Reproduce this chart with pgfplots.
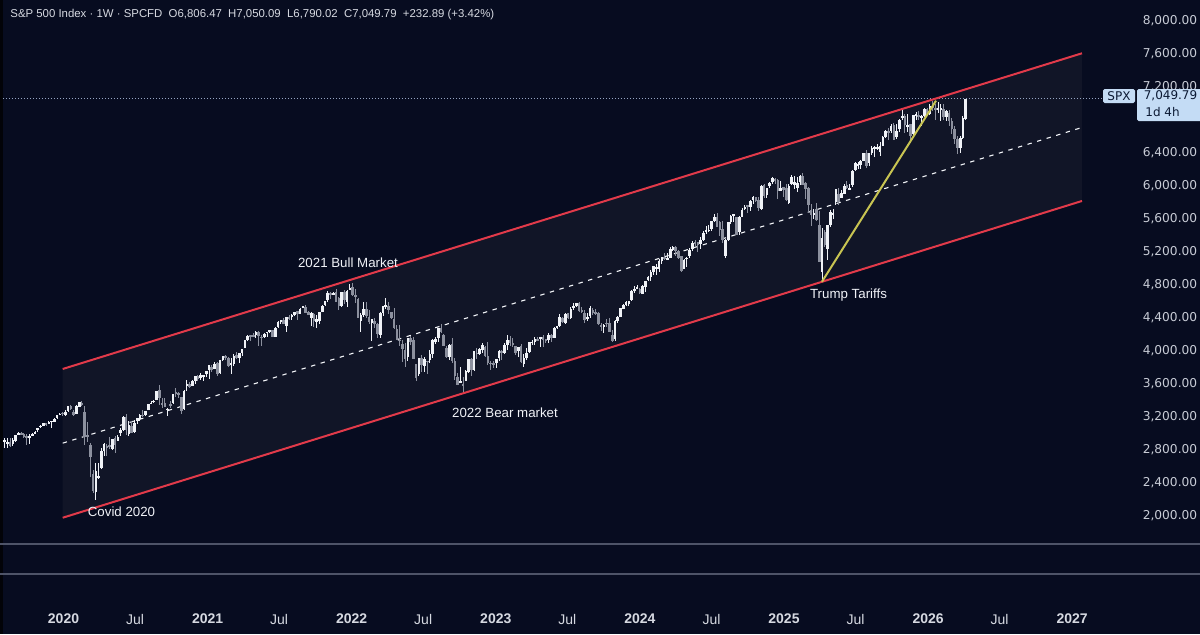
\documentclass[border=0pt]{standalone}
\usepackage{fontspec}
\setmainfont{Liberation Sans}
\newfontfamily\dejavu{DejaVu Sans}
\usepackage{pgfplots}
\usepackage{pgfplotstable}
\pgfplotsset{compat=1.18}
\definecolor{bg}{RGB}{7,12,32}
\definecolor{chfill}{RGB}{17,21,39}
\definecolor{upc}{RGB}{240,242,247}
\definecolor{dnc}{RGB}{140,144,158}
\definecolor{chred}{RGB}{226,58,74}
\definecolor{yel}{RGB}{200,196,82}
\definecolor{txt}{RGB}{214,217,225}
\definecolor{dimtxt}{RGB}{200,204,214}
\definecolor{panel}{RGB}{78,84,104}
\definecolor{lbl}{RGB}{196,220,245}
\definecolor{lbltxt}{RGB}{12,26,52}
\definecolor{dotc}{RGB}{150,165,195}

\pgfplotstableread{
w o h l c
0 3025 3028 2914 2932
1 2899 2944 2822 2918
2 2882 2939 2825 2889
3 2891 2939 2835 2847
4 2866 2940 2853 2926
5 2909 2985 2892 2979
6 2980 3021 2980 3007
7 3001 3022 2990 2992
8 2994 3002 2946 2962
9 2968 2993 2856 2952
10 2944 2993 2873 2970
11 2984 3008 2966 2986
12 2996 3027 2992 3023
13 3039 3067 3023 3067
14 3078 3097 3066 3093
15 3090 3120 3084 3120
16 3123 3127 3091 3110
17 3117 3154 3113 3141
18 3144 3150 3070 3146
19 3141 3183 3134 3169
20 3183 3225 3174 3221
21 3226 3248 3223 3240
22 3247 3258 3214 3235
23 3218 3282 3214 3265
24 3271 3330 3261 3330
25 3333 3338 3281 3295
26 3255 3285 3214 3226
27 3236 3347 3235 3328
28 3319 3385 3315 3380
29 3369 3393 3328 3338
30 3257 3337 2855 2954
31 2974 3137 2901 2972
32 2864 2882 2478 2711
33 2509 2553 2280 2305
34 2291 2637 2192 2541
35 2458 2641 2447 2489
36 2578 2818 2574 2790
37 2782 2879 2727 2875
38 2845 2871 2727 2837
39 2854 2954 2817 2831
40 2815 2932 2797 2930
41 2939 2968 2766 2864
42 2914 2980 2909 2955
43 3004 3068 2969 3044
44 3038 3211 3025 3194
45 3199 3233 2984 3041
46 2993 3155 2965 3098
47 3094 3155 3003 3009
48 3018 3165 2999 3130
49 3155 3186 3115 3185
50 3172 3238 3156 3225
51 3224 3279 3200 3216
52 3219 3272 3209 3271
53 3289 3352 3284 3351
54 3356 3387 3355 3373
55 3380 3399 3363 3397
56 3406 3509 3400 3508
57 3526 3588 3349 3427
58 3370 3425 3310 3341
59 3363 3428 3314 3319
60 3285 3306 3209 3298
61 3350 3397 3311 3348
62 3365 3482 3361 3477
63 3500 3550 3441 3484
64 3493 3502 3424 3465
65 3441 3441 3233 3270
66 3296 3529 3279 3510
67 3584 3646 3511 3585
68 3600 3628 3552 3558
69 3579 3644 3570 3638
70 3634 3699 3594 3699
71 3694 3712 3633 3663
72 3675 3726 3647 3709
73 3684 3711 3636 3703
74 3723 3760 3687 3756
75 3764 3827 3663 3825
76 3803 3823 3749 3768
77 3781 3861 3775 3841
78 3857 3870 3694 3714
79 3731 3887 3725 3887
80 3894 3937 3874 3934
81 3939 3951 3885 3907
82 3915 3929 3805 3811
83 3842 3915 3723 3842
84 3844 3960 3817 3943
85 3950 3983 3902 3913
86 3917 3978 3853 3975
87 3969 4020 3940 4020
88 4034 4129 4034 4129
89 4125 4191 4118 4185
90 4183 4195 4118 4180
91 4185 4218 4169 4181
92 4191 4238 4159 4233
93 4229 4238 4056 4174
94 4169 4188 4061 4156
95 4170 4214 4156 4204
96 4216 4233 4167 4230
97 4232 4249 4217 4247
98 4248 4257 4165 4166
99 4173 4286 4164 4281
100 4284 4356 4271 4352
101 4361 4372 4321 4370
102 4373 4393 4322 4327
103 4296 4415 4233 4412
104 4409 4430 4373 4395
105 4406 4441 4367 4437
106 4437 4470 4424 4468
107 4479 4479 4367 4442
108 4450 4513 4450 4509
109 4529 4545 4513 4535
110 4532 4549 4456 4459
111 4469 4485 4429 4433
112 4402 4465 4305 4455
113 4450 4457 4289 4357
114 4348 4429 4278 4391
115 4366 4475 4329 4471
116 4473 4560 4473 4545
117 4553 4608 4546 4605
118 4610 4718 4595 4697
119 4701 4714 4630 4682
120 4689 4718 4672 4698
121 4712 4743 4585 4595
122 4640 4652 4495 4538
123 4548 4713 4532 4712
124 4710 4731 4572 4620
125 4587 4740 4531 4726
126 4733 4808 4733 4766
127 4778 4819 4662 4677
128 4666 4749 4582 4663
129 4632 4635 4395 4398
130 4357 4453 4223 4432
131 4431 4595 4414 4501
132 4505 4590 4401 4419
133 4412 4490 4327 4349
134 4332 4389 4115 4385
135 4363 4402 4279 4329
136 4327 4333 4157 4204
137 4188 4465 4161 4463
138 4462 4546 4424 4543
139 4541 4637 4506 4546
140 4547 4593 4450 4488
141 4474 4474 4381 4393
142 4385 4513 4267 4272
143 4260 4308 4128 4132
144 4130 4307 4062 4123
145 4081 4131 3859 4023
146 4009 4090 3810 3901
147 3920 4158 3876 4158
148 4151 4177 4074 4109
149 4134 4168 3900 3901
150 3838 3838 3636 3675
151 3715 3913 3700 3912
152 3913 3951 3741 3825
153 3819 3919 3743 3899
154 3880 3880 3722 3863
155 3883 4012 3858 3962
156 3966 4141 3910 4130
157 4112 4168 4080 4145
158 4155 4280 4112 4280
159 4280 4325 4218 4228
160 4195 4203 4057 4058
161 4034 4062 3907 3924
162 3930 4077 3887 4067
163 4083 4150 3856 3873
164 3873 3907 3647 3693
165 3682 3736 3584 3586
166 3609 3806 3609 3640
167 3591 3685 3491 3583
168 3638 3762 3630 3753
169 3740 3905 3735 3901
170 3901 3911 3698 3771
171 3767 4001 3750 3993
172 3977 4028 3906 3965
173 3956 4035 3947 4026
174 4005 4100 3969 4072
175 4052 4053 3923 3934
176 3939 4101 3827 3852
177 3854 3876 3764 3845
178 3843 3878 3795 3840
179 3853 3906 3794 3895
180 3911 4004 3877 3999
181 3999 4015 3885 3973
182 3978 4094 3965 4071
183 4071 4195 4015 4136
184 4136 4176 4061 4090
185 4096 4156 4047 4079
186 4053 4053 3944 3970
187 3992 4048 3928 4046
188 4055 4078 3847 3862
189 3838 3964 3809 3917
190 3917 4039 3889 3971
191 3982 4110 3970 4109
192 4102 4133 4069 4105
193 4110 4164 4072 4138
194 4139 4170 4114 4133
195 4137 4170 4049 4169
196 4166 4187 4048 4136
197 4138 4143 4099 4124
198 4126 4212 4099 4192
199 4190 4209 4103 4151
200 4156 4290 4150 4282
201 4282 4300 4261 4299
202 4304 4448 4292 4410
203 4396 4410 4341 4348
204 4337 4458 4328 4450
205 4454 4456 4385 4399
206 4394 4528 4389 4505
207 4521 4578 4497 4536
208 4547 4582 4527 4582
209 4578 4585 4474 4478
210 4494 4527 4458 4464
211 4458 4490 4335 4370
212 4389 4452 4356 4405
213 4416 4541 4403 4516
214 4497 4521 4432 4457
215 4473 4511 4439 4450
216 4452 4466 4316 4320
217 4310 4337 4238 4288
218 4284 4325 4216 4308
219 4339 4385 4289 4327
220 4341 4394 4223 4224
221 4196 4256 4104 4117
222 4140 4374 4113 4358
223 4365 4418 4339 4415
224 4407 4521 4406 4514
225 4511 4568 4506 4559
226 4554 4599 4537 4595
227 4568 4609 4544 4604
228 4610 4738 4600 4719
229 4725 4779 4700 4754
230 4758 4793 4751 4770
231 4745 4765 4682 4697
232 4690 4798 4682 4784
233 4772 4842 4714 4840
234 4856 4907 4844 4891
235 4888 4975 4845 4959
236 4950 5030 4918 5027
237 5004 5048 4920 5006
238 4989 5111 4953 5089
239 5093 5140 5057 5137
240 5130 5189 5098 5124
241 5111 5179 5104 5117
242 5123 5261 5118 5234
243 5219 5265 5204 5254
244 5258 5264 5146 5204
245 5211 5222 5108 5123
246 5149 5150 4953 4967
247 4988 5114 4987 5099
248 5114 5139 5011 5128
249 5142 5240 5127 5223
250 5233 5325 5211 5303
251 5310 5342 5257 5305
252 5315 5315 5191 5278
253 5298 5376 5234 5347
254 5341 5447 5331 5431
255 5441 5506 5420 5465
256 5459 5523 5434 5460
257 5471 5570 5447 5567
258 5572 5655 5565 5615
259 5614 5670 5497 5505
260 5565 5566 5390 5459
261 5476 5566 5305 5346
262 5151 5349 5120 5344
263 5343 5561 5331 5554
264 5557 5643 5540 5634
265 5637 5651 5560 5648
266 5623 5623 5402 5408
267 5442 5636 5406 5626
268 5615 5733 5615 5703
269 5711 5767 5703 5738
270 5757 5765 5674 5751
271 5737 5822 5696 5815
272 5829 5878 5783 5865
273 5857 5863 5796 5808
274 5826 5866 5696 5729
275 5722 6012 5707 5995
276 6008 6017 5853 5870
277 5883 5972 5853 5969
278 5992 6044 5968 6032
279 6040 6099 6023 6090
280 6083 6089 6024 6051
281 6068 6085 5832 5931
282 5940 6050 5929 5971
283 5982 5985 5868 5942
284 5970 6021 5809 5827
285 5790 6014 5773 5997
286 6014 6128 6005 6101
287 6012 6120 5962 6041
288 5969 6101 5923 6026
289 6047 6127 6003 6115
290 6122 6147 6009 6013
291 6026 6043 5837 5955
292 5968 5986 5666 5770
293 5705 5775 5505 5639
294 5653 5715 5597 5668
295 5718 5787 5572 5581
296 5527 5695 5070 5074
297 4953 5481 4835 5363
298 5441 5459 5262 5283
299 5232 5528 5101 5525
300 5526 5700 5500 5686
301 5655 5720 5598 5660
302 5807 5959 5770 5958
303 5902 5968 5768 5803
304 5855 5944 5852 5912
305 5897 6016 5896 6000
306 6004 6059 5963 5977
307 5954 6024 5943 5967
308 6005 6187 5978 6173
309 6193 6284 6178 6279
310 6248 6290 6201 6260
311 6255 6315 6202 6297
312 6304 6395 6302 6389
313 6391 6427 6212 6238
314 6271 6395 6239 6389
315 6389 6481 6366 6450
316 6445 6481 6343 6467
317 6457 6508 6431 6460
318 6401 6532 6360 6482
319 6485 6600 6476 6584
320 6590 6671 6573 6664
321 6661 6699 6550 6644
322 6661 6750 6634 6716
323 6735 6764 6550 6553
324 6593 6744 6570 6664
325 6690 6807 6646 6792
326 6830 6920 6800 6840
327 6848 6862 6631 6728
328 6721 6869 6646 6734
329 6742 6742 6521 6603
330 6625 6853 6600 6849
331 6849 6895 6800 6870
332 6860 6901 6790 6827
333 6830 6860 6720 6834
334 6840 6945 6830 6930
335 6930 6940 6840 6858
336 6870 6985 6850 6966
337 6960 7020 6900 6940
338 6935 6990 6790 6915
339 6915 7010 6880 6939
340 6930 6990 6780 6930
341 6925 6985 6800 6836
342 6836 6920 6780 6900
343 6880 6910 6720 6780
344 6780 6820 6620 6680
345 6680 6720 6500 6560
346 6560 6600 6380 6460
347 6460 6600 6400 6580
348 6580 6840 6560 6817
349 6806.47 7050.09 6790.02 7049.79
}\spx

\begin{document}
\begin{tikzpicture}[x=1pt,y=1pt]
\useasboundingbox (0,0) rectangle (600,317);
\fill[bg] (0,0) rectangle (600,317);
\begin{axis}[
  at={(0pt,45pt)}, anchor=south west,
  scale only axis, width=545pt, height=272pt,
  xmin=2019.5593, xmax=2027.1235,
  ymin=1661, ymax=8247,
  clip=false,
  axis x line*=bottom, axis y line*=right,
  axis line style={draw=none},
  major tick length=0pt,
  xtick={2020,2020.496,2021,2021.496,2022,2022.496,2023,2023.496,2024,2024.497,2025,2025.496,2026,2026.496,2027},
  xticklabels={\textbf{2020},Jul,\textbf{2021},Jul,\textbf{2022},Jul,\textbf{2023},Jul,\textbf{2024},Jul,\textbf{2025},Jul,\textbf{2026},Jul,\textbf{2027}},
  xticklabel style={anchor=center, yshift=-37.5pt, font=\fontsize{7pt}{8pt}\selectfont, text=txt},
  ytick={2000,2400,2800,3200,3600,4000,4400,4800,5200,5600,6000,6400,7200,7600,8000},
  yticklabel style={anchor=center, xshift=40pt, font=\dejavu\fontsize{6.1pt}{7pt}\selectfont, text=dimtxt,
    /pgf/number format/fixed, /pgf/number format/fixed zerofill,
    /pgf/number format/precision=2, /pgf/number format/1000 sep={,},
    /pgf/number format/assume math mode=true},
]
% channel fill
\addplot[fill=chfill, draw=none, forget plot] coordinates {(2019.9944,1979) (2019.9944,3780) (2027.068,7602) (2027.068,5814)} -- cycle;
% middle dashed
\addplot[draw=upc!85, line width=0.55pt, dash pattern=on 2.2pt off 2.8pt, forget plot] coordinates {(2019.9944,2882) (2027.068,6704)};
% price line
\addplot[draw=dotc, line width=0.45pt, dash pattern=on 0.5pt off 1pt, forget plot] coordinates {(2019.5593,7049.79) (2027.214,7049.79)};
% wicks up
\addplot[draw=none, forget plot, error bars/.cd, y dir=both, y explicit, error mark=none,
  error bar style={draw=upc, line width=0.5pt}]
  table[x expr=2019.5726+0.019165*\thisrow{w},
        y expr={\thisrow{c}>=\thisrow{o} ? (\thisrow{h}+\thisrow{l})/2 : nan},
        y error expr={(\thisrow{h}-\thisrow{l})/2}] {\spx};
% wicks down
\addplot[draw=none, forget plot, error bars/.cd, y dir=both, y explicit, error mark=none,
  error bar style={draw=dnc, line width=0.5pt}]
  table[x expr=2019.5726+0.019165*\thisrow{w},
        y expr={\thisrow{c}<\thisrow{o} ? (\thisrow{h}+\thisrow{l})/2 : nan},
        y error expr={(\thisrow{h}-\thisrow{l})/2}] {\spx};
% bodies up
\addplot[draw=none, forget plot, error bars/.cd, y dir=both, y explicit, error mark=none,
  error bar style={draw=upc, line width=1.3pt}]
  table[x expr=2019.5726+0.019165*\thisrow{w},
        y expr={\thisrow{c}>=\thisrow{o} ? (\thisrow{o}+\thisrow{c})/2 : nan},
        y error expr={max(abs(\thisrow{c}-\thisrow{o})/2,8)}] {\spx};
% bodies down
\addplot[draw=none, forget plot, error bars/.cd, y dir=both, y explicit, error mark=none,
  error bar style={draw=dnc, line width=1.3pt}]
  table[x expr=2019.5726+0.019165*\thisrow{w},
        y expr={\thisrow{c}<\thisrow{o} ? (\thisrow{o}+\thisrow{c})/2 : nan},
        y error expr={max(abs(\thisrow{c}-\thisrow{o})/2,8)}] {\spx};
% channel lines
\addplot[draw=chred, line width=1pt, forget plot] coordinates {(2019.9944,3780) (2027.068,7602)};
\addplot[draw=chred, line width=1pt, forget plot] coordinates {(2019.9944,1979) (2027.068,5814)};
% yellow
\addplot[draw=yel, line width=1pt, forget plot] coordinates {(2025.263,4835) (2026.055,7028)};
\end{axis}
% left border
\fill[black!75!bg] (0,0) rectangle (1.3,317);
% pane separators
\draw[panel, line width=0.8pt] (0,45) -- (600,45);
\draw[panel, line width=0.8pt] (0,30) -- (600,30);
% header
\node[anchor=west, text=txt, font=\fontsize{5.7pt}{7pt}\selectfont, inner sep=0pt] at (5,309.5)
  {S\&P 500 Index · 1W · SPCFD\hspace{0.55em}O6,806.47\hspace{0.55em}H7,050.09\hspace{0.55em}L6,790.02\hspace{0.55em}C7,049.79\hspace{0.55em}+232.89 (+3.42\%)};
% annotations
\begin{scope}[every node/.style={text=upc, font=\fontsize{6.65pt}{8pt}\selectfont, inner sep=0pt}]
\node at (174,185.5) {2021 Bull Market};
\node at (252.5,110.5) {2022 Bear market};
\node at (60.75,61) {Covid 2020};
\node at (424.25,169.5) {Trump Tariffs};
\end{scope}
% price label
\fill[lbl, rounded corners=0.8pt] (551.5,265.5) rectangle (567.5,272.5);
\fill[lbl, rounded corners=0.8pt] (568.5,256.5) rectangle (601,272.5);
\node[text=lbltxt, font=\dejavu\fontsize{6pt}{7pt}\selectfont, inner sep=0pt] at (559.5,269) {SPX};
\node[anchor=west, text=lbltxt, font=\dejavu\fontsize{6pt}{7pt}\selectfont, inner sep=0pt] at (571.7,269) {7,049.79};
\node[anchor=west, text=lbltxt, font=\dejavu\fontsize{6pt}{7pt}\selectfont, inner sep=0pt] at (572.5,260.75) {1d 4h};
\end{tikzpicture}
\end{document}
